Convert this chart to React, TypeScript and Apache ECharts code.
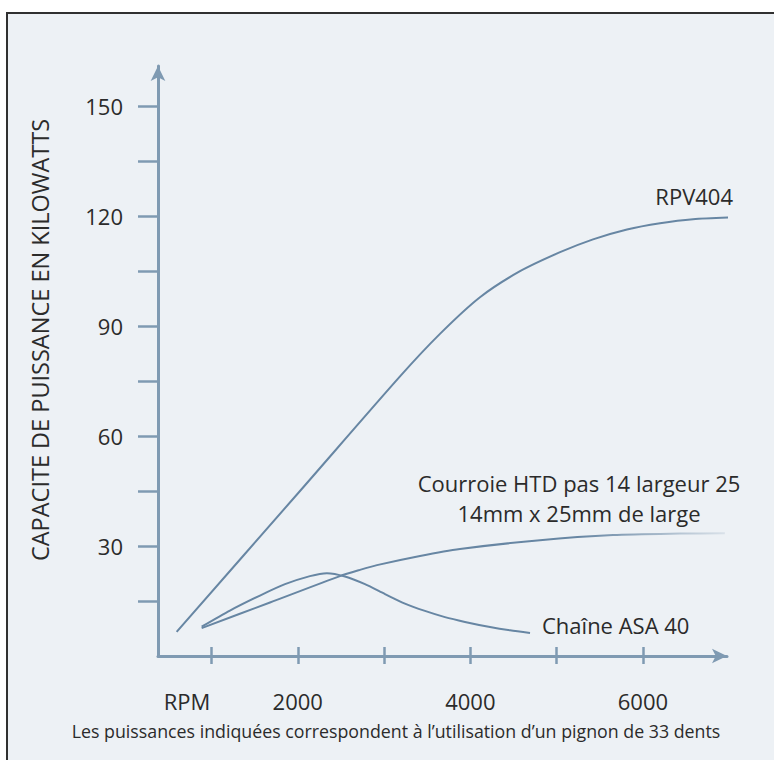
import React, { useEffect, useRef } from "react";
import * as echarts from "echarts";

// X axis (RPM) ticks and labels
const rpmTicks = [1000, 2000, 3000, 4000, 5000, 6000];
const rpmLabels = [2000, 4000, 6000];
// Y axis (kW) ticks and labels
const kwTicks = [15, 30, 45, 60, 75, 90, 105, 120, 135, 150];
const kwLabels = [30, 60, 90, 120, 150];

// RPV404
const rpvRpm = [596, 2036, 3185, 3648, 4112, 4576, 5040, 5422, 5816, 6199, 6581, 7045];
const rpvKw = [6.6, 45.3, 76.3, 87.9, 97.9, 105.0, 110.2, 113.7, 116.4, 118.1, 119.2, 119.7];

// Courroie HTD pas 14 largeur 25
const htdRpm = [886, 1678, 2489, 2721, 2918, 3417, 3880, 4807, 5654, 6431, 6950];
const htdKw = [7.6, 14.6, 21.8, 23.5, 24.8, 27.3, 29.2, 31.6, 33.0, 33.4, 33.5];

// Chaîne ASA 40
const asaRpm = [886, 1214, 1562, 1852, 2141, 2338, 2547, 2779, 3011, 3242, 3474, 3706, 3938, 4228, 4460, 4692];
const asaKw = [8.0, 12.4, 16.5, 19.6, 21.8, 22.6, 21.7, 19.6, 16.9, 14.3, 12.3, 10.6, 9.3, 7.9, 7.0, 6.3];

const pairs = (xs: number[], ys: number[]) => xs.map((x, i) => [x, ys[i]]);

const FONT = "Open Sans";
const TEXT = "#2b2b2b";
const AXIS = "#7f9ab2";
const LINE = "#6786a3";

export default function App() {
  const ref = useRef<HTMLDivElement>(null);

  useEffect(() => {
    if (!ref.current) return;
    const chart = echarts.init(ref.current, undefined, { renderer: "svg" });
    const lineSeries = (name: string, data: number[][], color: any = LINE) => ({
      name,
      type: "line",
      data,
      showSymbol: false,
      smooth: 0.25,
      clip: false,
      lineStyle: { width: 2, color },
      itemStyle: { color: LINE },
    });
    const fade = new echarts.graphic.LinearGradient(0, 0, 1, 0, [
      { offset: 0, color: LINE },
      { offset: 0.72, color: LINE },
      { offset: 1, color: "rgba(103,134,163,0.15)" },
    ]);
    const label = (text: string, x: number, y: number, align: string, fontSize = 22) => ({
      type: "text",
      x,
      y,
      style: { text, fontSize, fontFamily: FONT, fill: TEXT, align, verticalAlign: "middle" },
    });
    chart.setOption({
      animation: false,
      backgroundColor: "transparent",
      textStyle: { fontFamily: FONT, color: TEXT },
      grid: { left: 158, right: 47, top: 66, bottom: 104, containLabel: false },
      xAxis: [
        {
          type: "value",
          min: 380,
          max: 6975,
          splitLine: { show: false },
          axisLine: {
            show: true,
            lineStyle: { color: AXIS, width: 3 },
            symbol: ["none", "arrow"],
            symbolSize: [11, 15],
          },
          axisTick: {
            show: true,
            customValues: rpmTicks,
            length: 8,
            lineStyle: { color: AXIS, width: 2.5 },
          },
          axisLabel: {
            show: true,
            customValues: rpmLabels,
            formatter: (v: number) => String(v),
            margin: 34,
            fontSize: 22,
            color: TEXT,
            fontFamily: FONT,
          },
        },
        {
          type: "value",
          min: 380,
          max: 6975,
          position: "bottom",
          splitLine: { show: false },
          axisLine: { show: false },
          axisTick: {
            show: true,
            inside: true,
            customValues: rpmTicks,
            length: 9,
            lineStyle: { color: AXIS, width: 2.5 },
          },
          axisLabel: { show: false },
        },
      ],
      yAxis: {
        type: "value",
        min: 0,
        max: 161,
        splitLine: { show: false },
        axisLine: {
          show: true,
          lineStyle: { color: AXIS, width: 3 },
          symbol: ["none", "arrow"],
          symbolSize: [11, 15],
        },
        axisTick: {
          show: true,
          customValues: kwTicks,
          length: 20,
          lineStyle: { color: AXIS, width: 2.5 },
        },
        axisLabel: {
          show: true,
          customValues: kwLabels,
          formatter: (v: number) => String(v),
          margin: 35,
          fontSize: 22,
          color: TEXT,
          fontFamily: FONT,
        },
      },
      series: [
        lineSeries("RPV404", pairs(rpvRpm, rpvKw)),
        lineSeries("Courroie HTD pas 14 largeur 25", pairs(htdRpm, htdKw), fade),
        lineSeries("Chaîne ASA 40", pairs(asaRpm, asaKw)),
      ],
      graphic: [
        {
          type: "text",
          x: 40,
          y: 340,
          rotation: Math.PI / 2,
          style: {
            text: "CAPACITE DE PUISSANCE EN KILOWATTS",
            fontSize: 23.5,
            fontFamily: FONT,
            fill: TEXT,
            align: "center",
            verticalAlign: "middle",
          },
        },
        label("RPV404", 733, 196, "right"),
        label("Courroie HTD pas 14 largeur 25", 579, 483, "center"),
        label("14mm x 25mm de large", 579, 513, "center"),
        label("Chaîne ASA 40", 542, 625, "left"),
        label("RPM", 187, 701, "center"),
        label(
          "Les puissances indiquées correspondent à l’utilisation d’un pignon de 33 dents",
          396,
          731,
          "center",
          17.8
        ),
      ],
    });
    return () => chart.dispose();
  }, []);

  return (
    <div
      style={{
        position: "fixed",
        left: 0,
        top: 0,
        width: 774,
        height: 760,
        background: "#ffffff",
        overflow: "hidden",
      }}
    >
      <div
        style={{
          position: "absolute",
          left: 6,
          top: 12,
          width: 800,
          height: 800,
          background: "#edf1f5",
          border: "2.5px solid #303030",
          boxSizing: "border-box",
        }}
      />
      <div ref={ref} style={{ position: "absolute", left: 0, top: 0, width: 774, height: 760 }} />
    </div>
  );
}
